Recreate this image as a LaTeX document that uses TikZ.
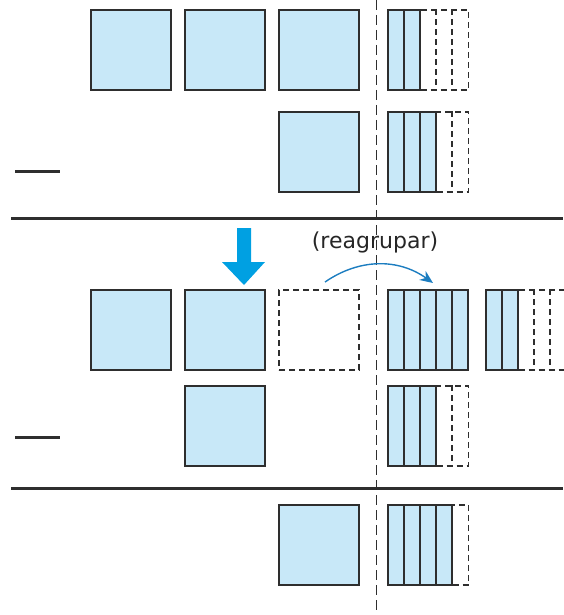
\documentclass[tikz,border=0pt]{standalone}
\usepackage{fontspec}
\setmainfont{DejaVu Sans}
\usetikzlibrary{arrows.meta}

\definecolor{lightblue}{HTML}{C8E8F8}
\definecolor{arrowblue}{HTML}{00A0E2}
\definecolor{curveblue}{HTML}{1C7DC0}
\definecolor{edge}{HTML}{2E2E2E}

\begin{document}
\begin{tikzpicture}[x=1pt,y=-1pt,
        sq/.style={draw=edge,fill=lightblue,line width=1.6pt,minimum size=80pt,inner sep=0pt},
        emptysq/.style={draw=edge,dash pattern=on 6pt off 4pt,line width=1.4pt,minimum size=80pt,inner sep=0pt},
        rod/.style={draw=edge,fill=lightblue,line width=1.6pt,minimum width=16pt,minimum height=80pt,inner sep=0pt},
        emptyrods/.style={draw=edge,dash pattern=on 6pt off 4pt,line width=1.4pt,minimum width=16pt*#1,minimum height=80pt,inner sep=0pt,anchor=west},
        gapline/.style={draw=edge,dash pattern=on 6pt off 4pt,line width=1.4pt},
        bar/.style={line width=3pt,draw=edge},
        minus/.style={line width=3pt,draw=edge}]

    \useasboundingbox (0,0) rectangle (563,615);

    % divider between tens and ones
    \draw[edge,line width=1pt,dash pattern=on 10pt off 5pt] (376,0) -- (376,615);

    % first number
    \node[sq] (a1) at (131,50) {};
    \node[sq] (a2) at (225,50) {};
    \node[sq] (a3) at (319,50) {};
    \node[emptyrods=3] (ae) at (420,50) {};
    \foreach \j in {1,2}
        \draw[gapline] ([xshift=16*\j]ae.north west) -- ([xshift=16*\j]ae.south west);
    \foreach \i in {1,2} \node[rod] (ar\i) at (380+16*\i,50) {};

    % second number
    \draw[minus] (15,171) -- (60,171);
    \node[sq] (b1) at (319,152) {};
    \node[emptyrods=2] (be) at (436,152) {};
    \draw[gapline] ([xshift=16]be.north west) -- ([xshift=16]be.south west);
    \foreach \i in {1,2,3} \node[rod] (br\i) at (380+16*\i,152) {};

    \draw[bar] (11,218) -- (563,218);

    % regrouping
    \fill[arrowblue] (237,228) -- (251,228) -- (251,262) -- (265,262)
        -- (244,285) -- (222,262) -- (237,262) -- cycle;
    \node[font=\fontsize{22}{26}\selectfont,text=black!85] (regroup) at (375,242) {(reagrupar)};
    \coordinate (from) at (325,282);
    \coordinate (to) at (433,283);
    \draw[curveblue,line width=1.4pt,-{Stealth[length=13pt,width=11pt]}]
        (from) to[bend left=35] (to);

    \node[sq] (c1) at (131,330) {};
    \node[sq] (c2) at (225,330) {};
    \node[emptysq] (c3) at (319,330) {};
    \foreach \i in {1,...,5} \node[rod] (cr\i) at (380+16*\i,330) {};
    \node[emptyrods=3] (ce) at (518,330) {};
    \foreach \j in {1,2}
        \draw[gapline] ([xshift=16*\j]ce.north west) -- ([xshift=16*\j]ce.south west);
    \foreach \i in {1,2} \node[rod] (cs\i) at (478+16*\i,330) {};

    \draw[minus] (15,437) -- (60,437);
    \node[sq] (d1) at (225,426) {};
    \node[emptyrods=2] (de) at (436,426) {};
    \draw[gapline] ([xshift=16]de.north west) -- ([xshift=16]de.south west);
    \foreach \i in {1,2,3} \node[rod] (dr\i) at (380+16*\i,426) {};

    \draw[bar] (11,488) -- (563,488);

    % result
    \node[sq] (e1) at (319,545) {};
    \node[emptyrods=1] (ee) at (452,545) {};
    \foreach \i in {1,...,4} \node[rod] (er\i) at (380+16*\i,545) {};
\end{tikzpicture}
\end{document}
